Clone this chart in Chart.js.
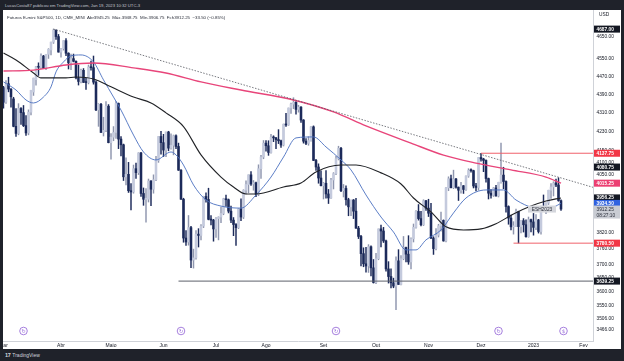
<!DOCTYPE html>
<html>
<head>
<meta charset="utf-8">
<script src="https://cdn.jsdelivr.net/npm/chart.js@4.4.1/dist/chart.umd.min.js"></script>
<style>
  html, body { margin: 0; padding: 0; width: 624px; height: 361px; overflow: hidden; background: #1f222a; font-family: "Liberation Sans", Arial, sans-serif; }
  #top { position: absolute; left: 5px; top: 2.5px; font-size: 4.2px; color: #c3c6ce; white-space: nowrap; }
  #box { position: absolute; left: 3px; top: 10px; width: 618px; height: 339px; background: #fff; }
  #box canvas { display: block; }
  #legend { position: absolute; left: 4px; top: 5px; font-size: 4.4px; color: #2a2e39; white-space: nowrap; }
  #logo { position: absolute; left: 5px; top: 352px; font-size: 5px; color: #d1d4dc; white-space: nowrap; }
  #logo b { font-size: 5.5px; letter-spacing: -0.4px; margin-right: 2px; }
</style>
</head>
<body>
<div id="top">LucasCosta87 publicou em TradingView.com, Jan 19, 2023 10:32 UTC-3</div>
<div id="box">
  <canvas id="chart" width="618" height="339"></canvas>
  <div id="legend">Futuros E-mini S&amp;P500, 1D, CME_MINI&nbsp; Abr3945.25&nbsp; Máx.3948.75&nbsp; Mín.3906.75&nbsp; Fch3912.25&nbsp; −33.50 (−0.85%)</div>
</div>
<div id="logo"><b>17</b>TradingView</div>
<script>
// trading sessions shown on the chart (Mar 2022 - Jan 19 2023)
const monthKeys = ['2022-03','2022-04','2022-05','2022-06','2022-07','2022-08','2022-09','2022-10','2022-11','2022-12','2023-01'];
const monthDays = [
  [1,2,3,4,7,8,9,10,11,14,15,16,17,18,21,22,23,24,25,28,29,30,31],
  [1,4,5,6,7,8,11,12,13,14,18,19,20,21,22,25,26,27,28,29],
  [2,3,4,5,6,9,10,11,12,13,16,17,18,19,20,23,24,25,26,27,31],
  [1,2,3,6,7,8,9,10,13,14,15,16,17,21,22,23,24,27,28,29,30],
  [1,5,6,7,8,11,12,13,14,15,18,19,20,21,22,25,26,27,28,29],
  [1,2,3,4,5,8,9,10,11,12,15,16,17,18,19,22,23,24,25,26,29,30,31],
  [1,2,6,7,8,9,12,13,14,15,16,19,20,21,22,23,26,27,28,29,30],
  [3,4,5,6,7,10,11,12,13,14,17,18,19,20,21,24,25,26,27,28,31],
  [1,2,3,4,7,8,9,10,11,14,15,16,17,18,21,22,23,25,28,29,30],
  [1,2,5,6,7,8,9,12,13,14,15,16,19,20,21,22,23,27,28,29,30],
  [3,4,5,6,9,10,11,12,13,17,18,19]
];
const monthNames = ['Mar','Abr','Maio','Jun','Jul','Ago','Set','Out','Nov','Dez','2023'];
const nextMonthName = 'Fev';
const sessionsLeftInJan = 8;

const opens = [
  4420,4356,4437,4413,4370,4251,4221,4328,4310,4254,4223,4312,4400,4455,4513,4511,4562,4506,4570,4590,4626,4682,4652,
  4580,4596,4633,4575,4531,4550,4538,4463,4447,4497,4443,4442,4512,4509,4444,4322,4346,4225,4234,4338,
  4182,4205,4225,4350,4197,4173,4041,4051,3985,3980,4074,4058,4139,3974,3951,3951,4024,3991,4029,4108,4208,
  4182,4151,4227,4159,4171,4211,4166,4068,3951,3800,3785,3840,3717,3725,3815,3810,3846,3962,3950,3872,3869,
  3835,3875,3881,3895,3953,3949,3904,3869,3852,3840,3913,3881,3987,4010,4049,4012,4017,3971,4074,4122,
  4180,4169,4141,4205,4202,4195,4190,4172,4260,4257,4330,4347,4355,4324,4334,4278,4188,4179,4191,4249,4108,4081,4036,
  4005,4015,3972,3956,4028,4054,4115,4158,3985,3994,3949,3921,3948,3904,3838,3806,3741,3703,3695,3767,3688,
  3634,3722,3835,3827,3789,3684,3656,3633,3621,3714,3627,3722,3764,3739,3710,3797,3841,3903,3875,3851,3945,
  3916,3896,3800,3760,3811,3847,3868,3789,3996,4033,3997,4032,3999,3987,4005,3990,4044,4067,4066,4004,3998,
  4120,4114,4108,4034,3975,3967,3996,3964,4019,4048,4022,3922,3877,3843,3846,3902,3844,3867,3851,3805,3871,
  3862,3841,3870,3825,3912,3909,3936,3987,4000,4016,4008,3945.25
];
const highs = [
  4425,4451,4466,4415,4377,4327,4349,4332,4341,4297,4322,4408,4462,4515,4531,4572,4565,4570,4596,4626,4687,4684,4662,
  4597,4633,4643,4577,4571,4571,4540,4521,4503,4505,4461,4521,4539,4562,4450,4349,4350,4290,4358,4345,
  4220,4250,4358,4352,4208,4176,4119,4100,4014,4089,4097,4140,4142,3996,3994,4032,4026,4049,4125,4208,4230,
  4217,4227,4230,4219,4214,4215,4180,4070,3955,3829,3887,3845,3758,3829,3836,3852,3963,3977,3995,3887,3872,
  3879,3882,3920,3955,3968,3952,3924,3879,3856,3914,3953,3989,4025,4049,4062,4026,4020,4090,4129,4191,
  4191,4190,4217,4211,4204,4237,4193,4261,4307,4330,4351,4375,4358,4342,4336,4280,4199,4207,4250,4253,4113,4094,4065,
  4018,4066,3990,4035,4058,4125,4167,4162,4010,4005,3955,3948,3950,3955,3845,3810,3763,3765,3775,3770,3719,
  3742,3835,3850,3841,3792,3711,3684,3650,3729,3756,3734,3806,3766,3809,3801,3854,3906,3930,3903,3949,3947,
  3951,3935,3805,3836,3853,3900,3870,3998,4041,4048,4068,4035,4000,4019,4006,4045,4074,4074,4068,4015,4120,
  4137.75,4117,4110,4036,3990,3998,4007,4019,4180,4080,4025,3925,3889,3863,3912,3904,3867,3875,3870,3881,3873,
  3895,3891,3872,3924,3968,3937,3987,4014,4021,4032,4037,3948.75
];
const lows = [
  4329,4350,4401,4334,4249,4208,4215,4259,4250,4212,4215,4300,4385,4430,4474,4505,4505,4500,4551,4567,4620,4639,4580,
  4557,4589,4564,4503,4500,4535,4458,4431,4440,4442,4412,4436,4498,4435,4318,4251,4225,4210,4228,4181,
  4113,4190,4200,4157,4127,4026,4008,3978,3909,3975,4034,4050,3962,3927,3861,3940,3926,3975,4025,4100,4134,
  4124,4124,4148,4155,4131,4157,4067,3950,3784,3772,3773,3689,3687,3720,3766,3793,3840,3939,3870,3850,3788,
  3802,3793,3859,3890,3923,3897,3859,3809,3772,3836,3867,3875,3972,3977,4006,3987,3961,3965,4034,4115,
  4146,4129,4138,4186,4157,4178,4162,4168,4251,4255,4307,4327,4303,4312,4268,4180,4174,4171,4188,4107,4067,4015,4004,
  3952,3955,3934,3954,3992,4050,4110,3981,3960,3928,3886,3886,3875,3837,3798,3695,3692,3672,3671,3658,3632,
  3630,3718,3766,3783,3676,3632,3614,3615,3536,3627,3625,3718,3710,3701,3684,3785,3838,3869,3847,3848,3907,
  3883,3798,3738,3755,3804,3826,3788,3785,3985,3996,3993,3995,3946,3975,3974,3986,4039,4060,3996,3984,3987,
  4105,4062,4019,3952,3955,3962,3963,3960,4015,3993,3900,3853,3831,3815,3845,3781,3820,3823,3803,3803,3823,
  3811,3832,3819,3815,3905,3894,3930,3954,3964,4001,3943,3906.75
];
const closes = [
  4356,4437,4413,4379,4251,4221,4328,4310,4254,4223,4312,4408,4462,4513,4511,4562,4506,4570,4593,4626,4682,4652,4580,
  4596,4633,4575,4531,4550,4538,4463,4447,4497,4443,4442,4512,4509,4444,4322,4346,4225,4234,4338,4182,
  4205,4225,4350,4197,4173,4041,4051,3985,3980,4074,4058,4139,3974,3951,3951,4024,3991,4029,4108,4208,4182,
  4151,4227,4159,4171,4211,4166,4068,3951,3800,3785,3840,3717,3725,3815,3810,3846,3962,3950,3872,3869,3835,
  3875,3881,3895,3953,3949,3904,3869,3852,3840,3913,3881,3987,4010,4049,4012,4017,3971,4074,4122,4180,
  4169,4141,4205,4202,4195,4190,4172,4260,4257,4330,4347,4355,4324,4334,4278,4188,4179,4191,4249,4108,4081,4036,4005,
  4015,3972,3956,4028,4054,4115,4158,3985,3994,3949,3921,3948,3904,3838,3806,3741,3703,3695,3767,3688,3634,
  3722,3835,3827,3789,3684,3656,3633,3621,3714,3627,3722,3764,3739,3710,3797,3841,3903,3875,3851,3945,3916,
  3896,3800,3760,3811,3847,3868,3789,3996,4033,3997,4032,3999,3987,4005,3990,4044,4067,4066,4004,3998,4120,
  4114,4108,4034,3975,3967,3996,3964,4019,4048,4022,3922,3877,3843,3846,3902,3844,3867,3851,3805,3871,3862,
  3841,3870,3825,3912,3909,3936,3987,4000,4016,4008,3945.75,3912.25
];

// moving averages: [bar index, value]
const ma20 = [[0,4445],[5,4409],[9,4365],[12,4352],[16,4378],[19,4423],[21,4490],[24,4535],[27,4563],[31,4567],[36,4535],[40,4454],[44,4378],[47,4321],[52,4214],[56,4143],[61,4110],[67,4143],[69,4131],[72,4089],[76,4008],[81,3948],[87,3924],[95,3916],[101,3968],[107,4040],[112,4122],[117,4202],[124,4206],[129,4164],[135,4110],[139,4069],[145,3968],[151,3881],[156,3823],[161,3755],[165,3755],[169,3793],[175,3831],[180,3897],[185,3956],[193,3988],[200,3988],[205,3948],[212,3916],[217,3909],[223,3934.5]];
const ma50 = [[0,4576],[5,4544],[12,4485],[15,4463],[25,4463],[29,4467],[36,4458],[43,4423],[52,4378],[59,4352],[65,4309],[72,4250],[79,4131],[87,4040],[92,4000],[97,3972],[101,3972],[112,4000],[119,4016],[125,4061],[135,4089],[141,4089],[151,4057],[159,4012],[164,3956],[171,3901],[177,3843],[184,3831],[191,3835],[197,3855],[204,3893],[211,3924],[217,3944],[223,3956.25]];
const ma200 = [[0,4494],[12,4498],[25,4521],[36,4530],[52,4508],[65,4485],[79,4445],[95,4409],[116,4365],[132,4313],[145,4253],[163,4180],[176,4130],[189,4097],[203,4069],[217,4040],[223,4015.25]];

// drawings
const trendLine = [[20,4687],[236,3998]];
const levelPrices = [4137.75, 3780.50, 3639.25];
const levelStartDates = ['2022-12-01','2022-12-20','2022-06-09'];
const rollDates = ['2022-03-11','2022-06-10','2022-09-09','2022-12-12'];

// price scale
const priceTicks = [4650,4550,4470,4390,4310,4230,4150,4100,4050,3820,3760,3700,3650,3600,3550,3506,3466];
const tagPrices = [4687.00, 4137.75, 4080.75, 4015.25, 3956.25, 3934.50, 3780.50, 3639.25];
const tagColors = ['#131722','#f23645','#131722','#ec3f72','#131722','#2f62e0','#f23645','#131722'];
const lastPrice = 3912.25;
const countdown = '08:27:10';

const dates = [];
monthKeys.forEach((m, i) => monthDays[i].forEach(d => dates.push(m + '-' + String(d).padStart(2, '0'))));

const monthTicks = monthKeys.map(m => dates.findIndex(d => d.startsWith(m)));
monthTicks.push(dates.length + sessionsLeftInJan);
const monthLabels = monthNames.concat([nextMonthName]);

const xMin = -0.2, xMax = 235.8;
const up = closes.map((c, i) => c >= opens[i]);
const upBody = '#c4cadd', upWick = '#8f96ae', downBody = '#1c2a5a';

const wicks = dates.map((d, i) => ({ x: i, y: [lows[i], highs[i]] }));
const bodies = dates.map((d, i) => ({ x: i, y: [opens[i], closes[i]] }));
const toXY = arr => arr.map(p => ({ x: p[0], y: p[1] }));

const levelSets = levelPrices.map((p, i) => ({
  type: 'line',
  data: [{ x: dates.indexOf(levelStartDates[i]), y: p }, { x: xMax, y: p }],
  borderColor: i === 2 ? '#5d606b' : '#f0616b',
  borderWidth: 1,
  pointRadius: 0,
  order: 1
}));

const overlay = {
  id: 'overlay',
  afterDraw(chart) {
    const { ctx, chartArea, scales: { x, y } } = chart;
    ctx.save();
    ctx.textBaseline = 'middle';

    // contract roll markers
    const markerIdx = rollDates.map(d => dates.indexOf(d)).concat([dates.length]);
    markerIdx.forEach((idx, k) => {
      const px = x.getPixelForValue(idx), py = chartArea.bottom - 10;
      ctx.beginPath();
      ctx.arc(px, py, 3.8, 0, Math.PI * 2);
      ctx.fillStyle = '#fff';
      ctx.fill();
      ctx.lineWidth = 0.8;
      ctx.strokeStyle = '#9061d6';
      ctx.stroke();
      ctx.fillStyle = '#9061d6';
      ctx.font = '5px "DejaVu Sans"';
      ctx.textAlign = 'center';
      ctx.fillText(k === markerIdx.length - 1 ? '$' : '↻', px, py + 0.3);
    });

    // price tags on the scale
    const left = chartArea.right + 1, w = 26;
    ctx.textAlign = 'left';
    ctx.font = 'bold 4.8px "Liberation Sans"';
    tagPrices.forEach((p, i) => {
      const py = y.getPixelForValue(p);
      ctx.fillStyle = tagColors[i];
      ctx.fillRect(left, py - 3.5, w, 7);
      ctx.fillStyle = '#fff';
      ctx.fillText(p.toFixed(2), left + 2.5, py + 0.2);
    });

    // last price + countdown
    const ly = y.getPixelForValue(lastPrice);
    ctx.fillStyle = '#c9ccd3';
    ctx.fillRect(left, ly - 3.5, w, 13);
    ctx.fillStyle = '#2a2e39';
    ctx.font = '4.8px "Liberation Sans"';
    ctx.fillText(lastPrice.toFixed(2), left + 2.5, ly + 0.2);
    ctx.fillText(countdown, left + 2.5, ly + 6.2);

    // contract name tag
    ctx.fillStyle = '#d4d6dc';
    ctx.fillRect(chartArea.right - 65, ly - 3.5, 28, 7);
    ctx.fillStyle = '#2a2e39';
    ctx.textAlign = 'center';
    ctx.fillText('ESH2023', chartArea.right - 51, ly + 0.2);

    // currency
    ctx.textAlign = 'left';
    ctx.fillStyle = '#131722';
    ctx.fillText('USD', chartArea.right + 6, 5);
    ctx.restore();
  }
};

new Chart(document.getElementById('chart'), {
  type: 'bar',
  data: {
    datasets: [
      { type: 'line', data: toXY(trendLine), borderColor: '#55585f', borderWidth: 0.8, borderDash: [1.5, 1.5], pointRadius: 0, order: 1 },
      ...levelSets,
      { type: 'line', data: toXY(ma200), borderColor: '#e8457a', borderWidth: 1.4, pointRadius: 0, cubicInterpolationMode: 'monotone', order: 2 },
      { type: 'line', data: toXY(ma50), borderColor: '#202226', borderWidth: 1.1, pointRadius: 0, cubicInterpolationMode: 'monotone', order: 2 },
      { type: 'line', data: toXY(ma20), borderColor: '#4a6fc0', borderWidth: 0.9, pointRadius: 0, cubicInterpolationMode: 'monotone', order: 2 },
      { data: wicks, backgroundColor: up.map(u => u ? upWick : downBody), barThickness: 0.8, grouped: false, order: 11 },
      { data: bodies, backgroundColor: up.map(u => u ? upBody : downBody), barThickness: 1.9, minBarLength: 1, grouped: false, order: 10 }
    ]
  },
  options: {
    responsive: false,
    animation: false,
    events: [],
    layout: { padding: 0 },
    plugins: { legend: { display: false }, tooltip: { enabled: false } },
    scales: {
      x: {
        type: 'linear',
        min: xMin,
        max: xMax,
        offset: false,
        grid: { display: true, offset: false, color: 'rgba(0,0,0,0)', drawTicks: false },
        border: { display: true, color: '#cfd2d8', width: 1 },
        afterBuildTicks: s => { s.ticks = monthTicks.map(v => ({ value: v })); },
        afterFit: s => { s.height = 8; s.paddingLeft = 0; s.paddingRight = 0; },
        ticks: {
          autoSkip: false, maxRotation: 0, padding: 1.5,
          color: '#131722', font: { size: 5, family: 'Liberation Sans' },
          callback: v => monthLabels[monthTicks.indexOf(v)]
        }
      },
      y: {
        type: 'logarithmic',
        position: 'right',
        min: 3426.8,
        max: 4777.8,
        grid: { display: true, color: 'rgba(0,0,0,0)', drawTicks: false },
        border: { display: true, color: '#cfd2d8', width: 1 },
        afterBuildTicks: s => { s.ticks = priceTicks.map(v => ({ value: v })); },
        afterFit: s => { s.width = 28; s.paddingTop = 0; s.paddingBottom = 0; },
        ticks: {
          autoSkip: false, padding: 3.5,
          color: '#131722', font: { size: 4.8, family: 'Liberation Sans' },
          callback: v => Number(v).toFixed(2)
        }
      }
    }
  },
  plugins: [overlay]
});
</script>
</body>
</html>
